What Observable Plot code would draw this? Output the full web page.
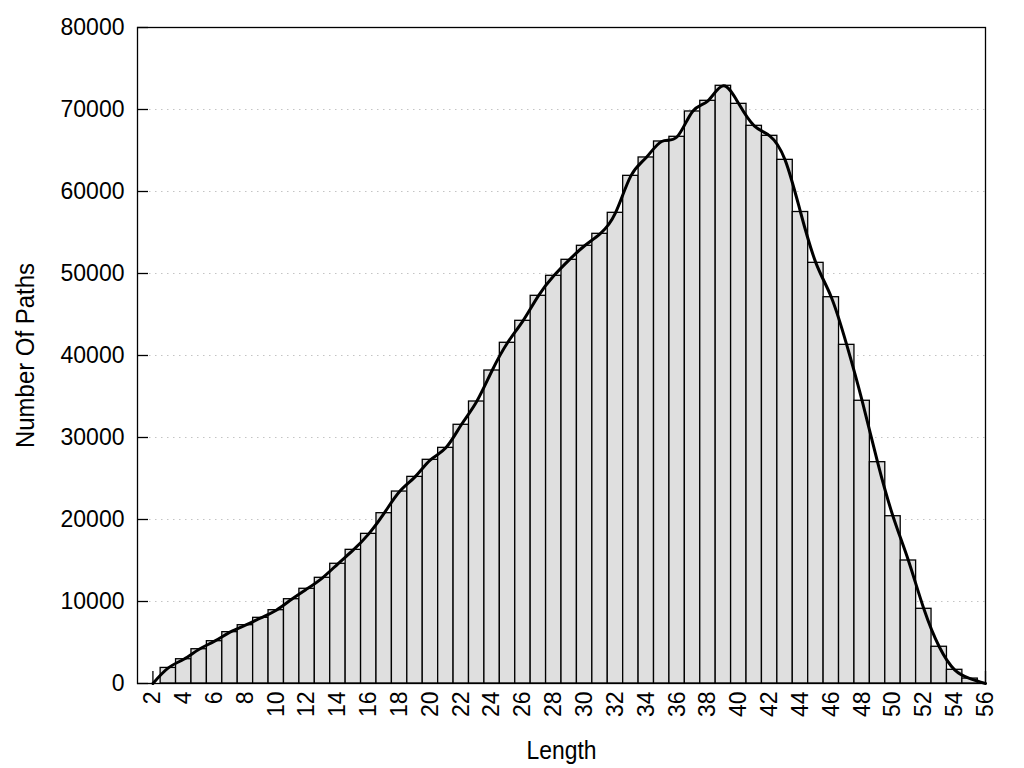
<!DOCTYPE html>
<html>
<head>
<meta charset="utf-8">
<script src="https://cdn.jsdelivr.net/npm/d3@7"></script>
<script src="https://cdn.jsdelivr.net/npm/@observablehq/plot@0.6"></script>
<style>
  html, body { margin: 0; padding: 0; background: #fff; }
  #chart svg { display: block; }
</style>
</head>
<body>
<div id="chart"></div>
<script>
// Path length (x) and number of paths (y)
const lengths = [2, 3, 4, 5, 6, 7, 8, 9, 10, 11, 12, 13, 14, 15, 16, 17, 18, 19, 20, 21, 22, 23, 24, 25, 26, 27, 28, 29,
  30, 31, 32, 33, 34, 35, 36, 37, 38, 39, 40, 41, 42, 43, 44, 45, 46, 47, 48, 49, 50, 51, 52, 53, 54, 55, 56];
const counts = [0, 1900, 2960, 4180, 5160, 6260, 7110, 8010, 8940, 10280, 11550, 12890, 14600, 16300, 18250, 20770,
  23410, 25200, 27280, 28740, 31550, 34390, 38170, 41550, 44230, 47280, 49720, 51670, 53380, 54840, 57400, 61910,
  64150, 66100, 66670, 69760, 71060, 72890, 70690, 68010, 66790, 63860, 57500, 51300, 47110, 41300, 34480, 26990,
  20400, 15000, 9110, 4480, 1670, 600, 0];
const xTicks = [2, 4, 6, 8, 10, 12, 14, 16, 18, 20, 22, 24, 26, 28, 30, 32, 34, 36, 38, 40, 42, 44, 46, 48, 50, 52, 54, 56];
const yTicks = [0, 10000, 20000, 30000, 40000, 50000, 60000, 70000, 80000];
const gridLines = [10000, 20000, 30000, 40000, 50000, 60000, 70000];
const xLabel = "Length";
const yLabel = "Number Of Paths";

const data = lengths.map((length, i) => ({length, count: counts[i]}));
const bars = data.filter(d => d.count > 0);

const W = 1024, H = 768, mL = 137, mR = 39, mT = 27, mB = 85;
const innerW = W - mL - mR, innerH = H - mT - mB;

const chart = Plot.plot({
  width: W,
  height: H,
  marginLeft: mL,
  marginRight: mR,
  marginTop: mT,
  marginBottom: mB,
  style: {fontFamily: "'Liberation Sans', Arial, sans-serif", fontSize: "23px", background: "#fff", color: "#000", overflow: "visible"},
  x: {domain: [1, 56]},
  y: {domain: [0, 80000]},
  marks: [
    Plot.ruleY(gridLines, {stroke: "#c4c4c4", strokeDasharray: "1.5,4.5", strokeWidth: 1}),
    Plot.tickX(xTicks, {x: d => d, stroke: "#000", strokeWidth: 1.3, insetTop: innerH - 12}),
    Plot.tickY(yTicks, {y: d => d, stroke: "#000", strokeWidth: 1.3, insetRight: innerW - 11}),
    Plot.rectY(bars, {x1: d => d.length - 0.5, x2: d => d.length + 0.5, y: "count", fill: "#dfdfdf", stroke: "#000", strokeWidth: 1.3}),
    Plot.line(data, {x: "length", y: "count", curve: "natural", stroke: "#000", strokeWidth: 3}),
    Plot.frame({stroke: "#000", strokeWidth: 1.3}),
    Plot.axisY({ticks: yTicks, tickSize: 0, tickPadding: 13, label: null, fontSize: 23, tickFormat: d3.format("d")}),
    Plot.axisX({ticks: xTicks, tickSize: 0, tickPadding: 8, tickRotate: -90, label: null, fontSize: 23, tickFormat: d3.format("d")}),
    Plot.text([xLabel], {frameAnchor: "bottom", dy: 67, text: d => d, fontSize: 26, textAnchor: "middle", lineAnchor: "middle", className: "xlab"}),
    Plot.text([yLabel], {frameAnchor: "left", dx: -112, rotate: -90, text: d => d, fontSize: 26, textAnchor: "middle", lineAnchor: "middle", className: "ylab"})
  ]
});
document.getElementById("chart").appendChild(chart);
// Slightly condensed axis titles, as in the original
chart.querySelectorAll(".xlab text").forEach(t => { t.setAttribute("textLength", 70); t.setAttribute("lengthAdjust", "spacingAndGlyphs"); });
chart.querySelectorAll(".ylab text").forEach(t => { t.setAttribute("textLength", 185); t.setAttribute("lengthAdjust", "spacingAndGlyphs"); });
</script>
</body>
</html>
